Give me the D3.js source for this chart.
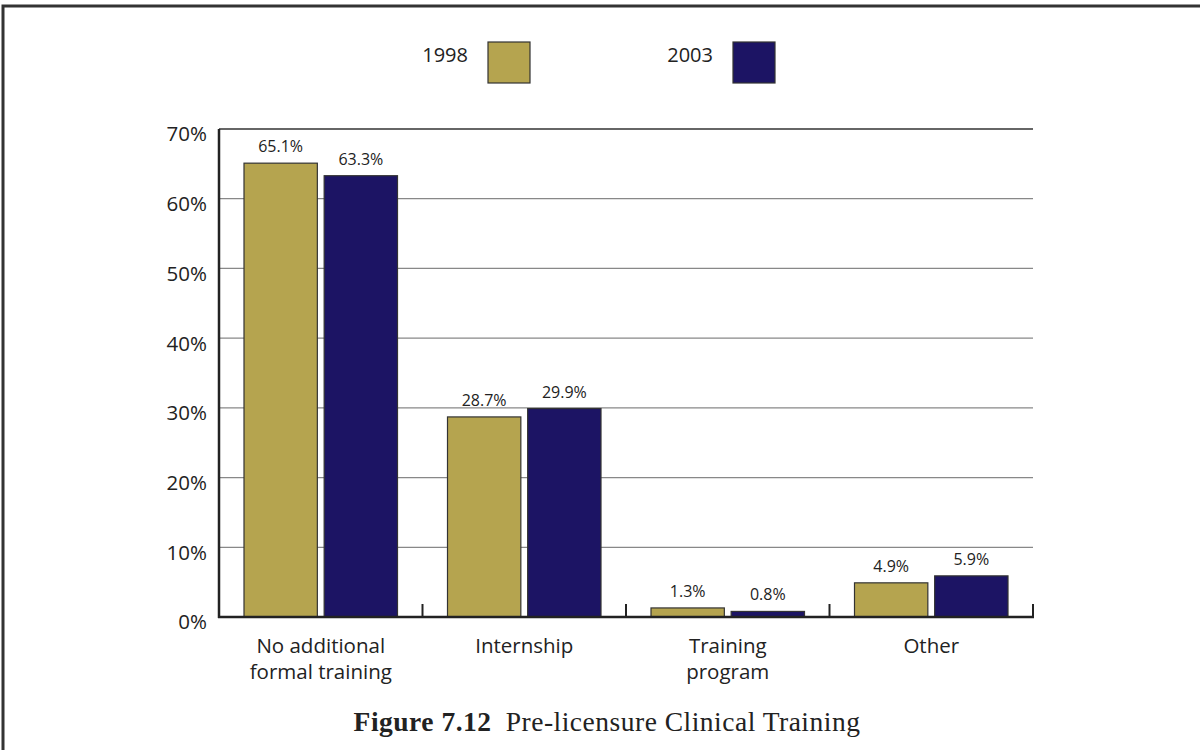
<!DOCTYPE html>
<html><head><meta charset="utf-8">
<script src="https://cdn.jsdelivr.net/npm/d3@7"></script>
<style>body{margin:0;background:#fff}svg{display:block}</style>
</head><body>
<svg id="c" width="1200" height="750"></svg>
<script>
const categories = [["No additional","formal training"],["Internship"],["Training","program"],["Other"]];
const seriesNames = ["1998","2003"];
const values1998 = [65.1, 28.7, 1.3, 4.9];
const values2003 = [63.3, 29.9, 0.8, 5.9];
const yTicks = [0,10,20,30,40,50,60,70];
const colors = ["#b5a44f","#1c1464"];

const svg = d3.select("#c");
const sans = "'Open Sans', 'Noto Sans', sans-serif";
const serif = "'Liberation Serif', 'DejaVu Serif', serif";

// frame
svg.append("path").attr("d","M3,760 L3,6 L1210,6").attr("fill","none").attr("stroke","#333").attr("stroke-width",3);

const catKeys = categories.map(c=>c.join(" "));
const x0 = d3.scaleBand().domain(catKeys).range([219,1033]).paddingInner(0).paddingOuter(0);
const x1 = d3.scaleBand().domain(seriesNames).range([25, x0.bandwidth()-25]).paddingInner(0.085).paddingOuter(0);
const y = d3.scaleLinear().domain([0,70]).range([617,129]);

// gridlines
svg.append("g").selectAll("line").data(yTicks.filter(t=>t>0)).join("line")
  .attr("x1",219).attr("x2",1033).attr("y1",d=>y(d)).attr("y2",d=>y(d))
  .attr("stroke",d=>d===70?"#333":"#888").attr("stroke-width",d=>d===70?1.5:1.3);

// y labels
svg.append("g").selectAll("text").data(yTicks).join("text")
  .attr("x",207).attr("y",d=>y(d)+7).attr("text-anchor","end").attr("dominant-baseline","middle")
  .attr("font-family",sans).attr("font-size",20.5).attr("fill","#222")
  .text(d=>d+"%");

// bars
const data = catKeys.map((k,i)=>({k, vals:[values1998[i], values2003[i]]}));
const g = svg.append("g").selectAll("g").data(data).join("g")
  .attr("transform",d=>`translate(${x0(d.k)},0)`);
g.selectAll("rect").data(d=>d.vals.map((v,j)=>({s:seriesNames[j],v,j}))).join("rect")
  .attr("x",d=>x1(d.s)).attr("width",x1.bandwidth())
  .attr("y",d=>y(d.v)).attr("height",d=>y(0)-y(d.v))
  .attr("fill",d=>colors[d.j]).attr("stroke","#333").attr("stroke-width",1.2);
g.selectAll("text").data(d=>d.vals.map((v,j)=>({s:seriesNames[j],v,j}))).join("text")
  .attr("x",d=>x1(d.s)+x1.bandwidth()/2).attr("y",d=>y(d.v)-11)
  .attr("text-anchor","middle").attr("font-family",sans).attr("font-size",16).attr("fill","#222")
  .text(d=>d.v.toFixed(1)+"%");

// axes lines
svg.append("line").attr("x1",219).attr("x2",219).attr("y1",129).attr("y2",618).attr("stroke","#222").attr("stroke-width",2.5);
svg.append("line").attr("x1",218).attr("x2",1034).attr("y1",617).attr("y2",617).attr("stroke","#222").attr("stroke-width",2.5);
const bounds = catKeys.slice(1).map(k=>x0(k)).concat([x0.range()[1]]);
svg.append("g").selectAll("line").data(bounds).join("line")
  .attr("x1",d=>d).attr("x2",d=>d).attr("y1",617).attr("y2",604).attr("stroke","#222").attr("stroke-width",2);

// category labels
const cl = svg.append("g").selectAll("text").data(categories).join("text")
  .attr("x",(d,i)=>x0(catKeys[i])+x0.bandwidth()/2).attr("y",653)
  .attr("text-anchor","middle").attr("font-family",sans).attr("font-size",20.5).attr("fill","#222");
cl.selectAll("tspan").data(d=>d).join("tspan")
  .attr("x",function(){return d3.select(this.parentNode).attr("x");})
  .attr("dy",(d,i)=>i===0?0:26).text(d=>d);

// legend
const legX = [530, 775];
seriesNames.forEach((s,i)=>{
  svg.append("rect").attr("x",legX[i]-42).attr("y",42).attr("width",42).attr("height",41)
    .attr("fill",colors[i]).attr("stroke","#333").attr("stroke-width",1.2);
  svg.append("text").attr("x",legX[i]-62).attr("y",57).attr("text-anchor","end").attr("dominant-baseline","middle")
    .attr("font-family",sans).attr("font-size",20).attr("fill","#222").text(s);
});

// caption
const cap = svg.append("text").attr("x",607).attr("y",731).attr("text-anchor","middle")
  .attr("font-family",serif).attr("font-size",27.5).attr("letter-spacing",0.5).attr("fill","#222");
cap.append("tspan").attr("font-weight","bold").text("Figure 7.12");
cap.append("tspan").text("\u2002Pre-licensure Clinical Training");
</script>
</body></html>
